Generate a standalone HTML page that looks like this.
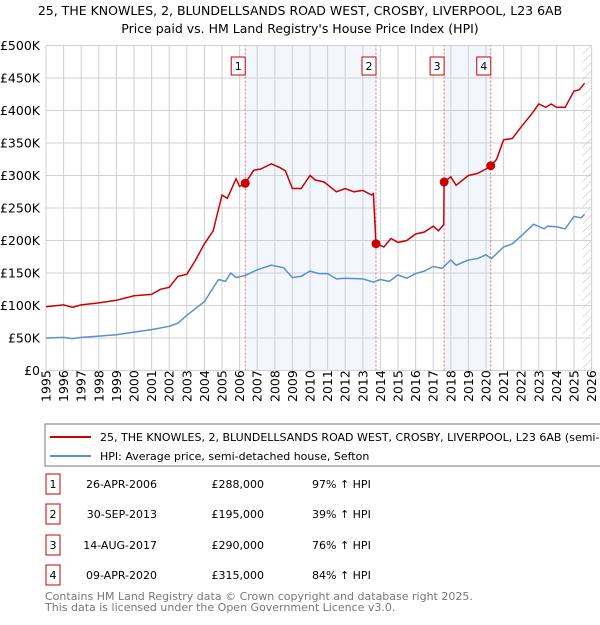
<!DOCTYPE html>
<html><head><meta charset="utf-8"><style>
body{margin:0;background:#fff;font-family:"Liberation Sans","DejaVu Sans",sans-serif;}
svg text{font-family:"DejaVu Sans","Liberation Sans",sans-serif;}
</style></head><body>
<svg id="c" width="600" height="620" xmlns="http://www.w3.org/2000/svg">
<defs><pattern id="hatch" width="6" height="6" patternUnits="userSpaceOnUse" patternTransform="rotate(45)"><line x1="0" y1="0" x2="0" y2="6" stroke="#bbb" stroke-width="1"/></pattern></defs>
<text x="300" y="15" text-anchor="middle" font-size="12.5">25, THE KNOWLES, 2, BLUNDELLSANDS ROAD WEST, CROSBY, LIVERPOOL, L23 6AB</text>
<text x="300" y="33" text-anchor="middle" font-size="12.5">Price paid vs. HM Land Registry's House Price Index (HPI)</text>
<g id="plot"></g>
<rect x="45" y="424" width="560" height="42" fill="#fff" stroke="#777"/>
<line x1="50" y1="437" x2="91" y2="437" stroke="#cc0000" stroke-width="2"/>
<text x="100" y="441" font-size="11">25, THE KNOWLES, 2, BLUNDELLSANDS ROAD WEST, CROSBY, LIVERPOOL, L23 6AB (semi-detached house)</text>
<line x1="50" y1="456" x2="91" y2="456" stroke="#5b8fd0" stroke-width="2"/>
<text x="100" y="460" font-size="11">HPI: Average price, semi-detached house, Sefton</text>
<g id="tbl"></g>
<text x="45" y="600" font-size="11" fill="#777">Contains HM Land Registry data © Crown copyright and database right 2025.</text>
<text x="45" y="611" font-size="11" fill="#777">This data is licensed under the Open Government Licence v3.0.</text>
</svg>
<script>
const hpiT=[1995,1996,1996.5,1997,1998,1999,2000,2001,2002,2002.5,2003,2004,2004.8,2005.2,2005.5,2005.8,2006.3,2007,2007.8,2008.5,2009,2009.5,2010,2010.5,2011,2011.5,2012,2013,2013.6,2014,2014.5,2015,2015.5,2016,2016.5,2017,2017.5,2018,2018.3,2019,2019.5,2020,2020.3,2021,2021.5,2022,2022.7,2023.3,2023.5,2024,2024.5,2025,2025.4,2025.6];
const hpiV=[50,51,49,51,53,55,59,63,68,73,85,106,140,137,150,143,146,155,162,158,143,145,153,149,149,141,142,141,136,140,137,147,142,149,153,160,157,170,162,170,172,178,172,190,195,207,225,218,222,221,218,237,235,240];
const redT=[1995,1996,1996.5,1997,1998,1999,2000,2001,2001.5,2002,2002.5,2003,2003.5,2004,2004.5,2005,2005.3,2005.8,2006,2006.32,2006.8,2007.2,2007.8,2008.3,2008.6,2009,2009.5,2010,2010.3,2010.8,2011.5,2012,2012.5,2013,2013.5,2013.6,2013.75,2014.2,2014.6,2015,2015.5,2016,2016.5,2017,2017.3,2017.6,2017.62,2018,2018.3,2019,2019.5,2020,2020.27,2020.6,2021,2021.5,2022,2022.6,2023,2023.4,2023.7,2024,2024.5,2025,2025.3,2025.6];
const redV=[98,101,97,101,104,108,115,117,125,128,145,148,170,195,215,270,265,295,283,288,308,310,318,312,307,280,280,300,293,290,275,280,275,277,270,272,195,190,203,197,200,210,213,222,215,225,290,298,285,300,303,310,315,325,355,357,375,395,410,405,410,405,405,430,432,442];
const saleT=[2006.32,2013.75,2017.62,2020.27];
const saleV=[288,195,290,315];
const saleLbl=["1","2","3","4"];
const dates=["26-APR-2006","30-SEP-2013","14-AUG-2017","09-APR-2020"];
const prices=["£288,000","£195,000","£290,000","£315,000"];
const pcts=["97% ↑ HPI","39% ↑ HPI","76% ↑ HPI","84% ↑ HPI"];
const yTicks=[0,50,100,150,200,250,300,350,400,450,500];
const yLabels=["£0","£50K","£100K","£150K","£200K","£250K","£300K","£350K","£400K","£450K","£500K"];
const xYears=[];for(let y=1995;y<=2026;y++)xYears.push(y);
const NS="http://www.w3.org/2000/svg";
const X=t=>46+(t-1995)*17.6, Y=v=>370.5-v*0.65;
const g=document.getElementById('plot');
function mk(tag,a,p){const e=document.createElementNS(NS,tag);for(const k in a)e.setAttribute(k,a[k]);(p||g).appendChild(e);return e;}
let e;
e=mk('rect',{x:X(saleT[0]),y:Y(500),width:X(saleT[1])-X(saleT[0]),height:Y(0)-Y(500),fill:'#eef3fc',opacity:0.75});


e=mk('rect',{x:X(saleT[2]),y:Y(500),width:X(saleT[3])-X(saleT[2]),height:Y(0)-Y(500),fill:'#eef3fc',opacity:0.75});


e=mk('rect',{x:X(2025.5),y:Y(500),width:X(2026)-X(2025.5),height:Y(0)-Y(500),fill:'url(#hatch)'});


xYears.forEach(y=>{
 e=mk('line',{x1:X(y),x2:X(y),y1:Y(0),y2:Y(500),stroke:'#d0d0d0'});
 
 
 e=mk('text',{x:0,y:0,transform:`translate(${X(y)+4.5},402) rotate(-90)`,'font-size':'12.5'});e.textContent=y;
 
 
});
yTicks.forEach((v,i)=>{
 e=mk('line',{x1:X(1995),x2:X(2026),y1:Y(v),y2:Y(v),stroke:'#d0d0d0'});
 
 
 e=mk('text',{x:40,y:Y(v)+4.5,'text-anchor':'end','font-size':'12.5'});e.textContent=yLabels[i];
 
 
});
saleT.forEach((t,i)=>{
 e=mk('line',{x1:X(t),x2:X(t),y1:Y(0),y2:Y(500),stroke:'#e05050','stroke-dasharray':'2,2','stroke-width':0.8});
 
 
});
function path(T,V,c,n){const d=T.map((t,i)=>(i?'L':'M')+X(t).toFixed(1)+','+Y(V[i]).toFixed(1)).join('');e=mk('path',{d:d,fill:'none',stroke:c,'stroke-width':1.5});
 
 }
path(hpiT,hpiV,'#5b8fd0','hpi-line');
path(redT,redV,'#cc0000','property-price-line');
saleT.forEach((t,i)=>{
 e=mk('circle',{cx:X(t),cy:Y(saleV[i]),r:4.5,fill:'#cc0000'});
 
 
 e=mk('rect',{x:X(t)-14,y:57,width:14,height:18,fill:'#fff',stroke:'#cc0000'});
 
 
 e=mk('text',{x:X(t)-7,y:70,'text-anchor':'middle','font-size':'11'});e.textContent=saleLbl[i];
 
 
});
const tb=document.getElementById('tbl');
const rowY=[484,514,545,575];
rowY.forEach((y,i)=>{
 e=mk('rect',{x:46,y:y-10,width:14,height:20,fill:'#fff',stroke:'#cc0000'},tb);
 
 
 const cells=[[53,'middle',saleLbl[i]],[157,'end',dates[i]],[264,'end',prices[i]],[312,'start',pcts[i]]];
 cells.forEach(c=>{e=mk('text',{x:c[0],y:y+4,'text-anchor':c[1],'font-size':'11'},tb);e.textContent=c[2];
  
  });
});
</script>
</body></html>
